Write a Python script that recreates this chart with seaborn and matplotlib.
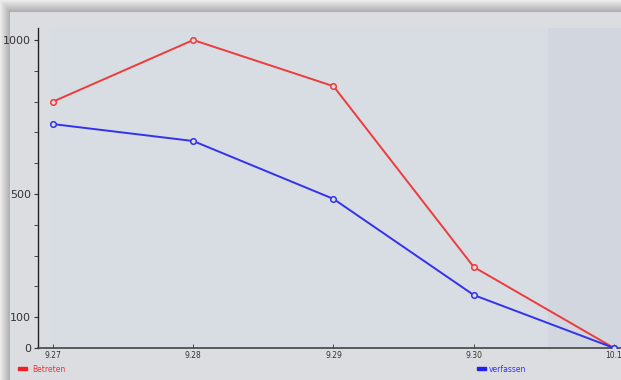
import numpy as np
import pandas as pd
import matplotlib
matplotlib.use("Agg")
import matplotlib.pyplot as plt
from matplotlib.patches import Rectangle
import seaborn as sns

dates = ["9.27", "9.28", "9.29", "9.30", "10.1"]
betreten = [800, 1000, 850, 263, 0]
verfassen = [727, 672, 484, 172, 0]
ytick_labels = [0, 100, 500, 1000]

df = pd.DataFrame({"pos": range(len(dates)), "Betreten": betreten, "verfassen": verfassen})

sns.set_style("white")
fig = plt.figure(figsize=(6.21, 3.80), dpi=100)

# background with shadow at top / left
bg = fig.add_axes([0, 0, 1, 1])
h, w = 380, 621
img = np.ones((h, w, 3)) * np.array([220, 221, 224]) / 255
yy, xx = np.mgrid[0:h, 0:w]
top = np.clip((12 - yy) / 12, 0, 1)
left = np.clip((10 - xx) / 10, 0, 1)
shade = np.maximum(top, left)
edge = np.array([170, 170, 170]) / 255
far = np.array([235, 235, 235]) / 255
mix = np.where(shade[..., None] > 0, edge + (far - edge) * shade[..., None], img)
bg.imshow(mix, aspect="auto", extent=[0, w, h, 0])
bg.axis("off")

ax = fig.add_axes([38 / 621, 32 / 380, 583 / 621, 320 / 380])
ax.set_facecolor("none")
ax.set_xlim(-0.107, 4.05)
ax.set_ylim(0, 1039)
ax.axvspan(-0.02, 3.53, color="#d8dce3", zorder=0, lw=0)
ax.axvspan(3.53, 4.1, color="#d2d6df", zorder=0, lw=0)

sns.lineplot(data=df, x="pos", y="Betreten", ax=ax, color="#ee3b3b", lw=1.4,
             marker="o", markersize=4, markerfacecolor="#d8dce3",
             markeredgecolor="#ee3b3b", markeredgewidth=1.1, zorder=3)
sns.lineplot(data=df, x="pos", y="verfassen", ax=ax, color="#3232ee", lw=1.4,
             marker="o", markersize=4, markerfacecolor="#d8dce3",
             markeredgecolor="#3232ee", markeredgewidth=1.1, zorder=3)

ax.set_xlabel("")
ax.set_ylabel("")
ax.set_xticks(range(len(dates)))
ax.set_xticklabels(dates, fontsize=5.5, color="#333333")
ax.set_yticks(ytick_labels)
ax.set_yticklabels([str(v) for v in ytick_labels], fontsize=8, color="#333333")
ax.set_yticks(range(0, 1001, 100), minor=True)
ax.tick_params(axis="y", which="major", length=3, width=0.8, color="#333333", pad=2, left=True)
ax.tick_params(axis="y", which="minor", length=3, width=0.7, color="#444444", left=True)
ax.tick_params(axis="x", which="major", length=3, width=0.6, color="#333333", pad=2, bottom=True, direction="in")
for s in ["top", "right"]:
    ax.spines[s].set_visible(False)
ax.spines["left"].set_color("#222222")
ax.spines["bottom"].set_color("#444444")
ax.spines["left"].set_linewidth(1.0)
ax.spines["bottom"].set_linewidth(1.2)

# legend swatches
fig.patches.append(Rectangle((18 / 621, 1 - 370 / 380), 9 / 621, 3 / 380,
                             transform=fig.transFigure, color="#ee2222", figure=fig))
fig.text(32 / 621, 1 - 369 / 380, "Betreten", fontsize=5.5, color="#ee3333", va="center")
fig.patches.append(Rectangle((477 / 621, 1 - 370 / 380), 9 / 621, 3 / 380,
                             transform=fig.transFigure, color="#2222ee", figure=fig))
fig.text(489 / 621, 1 - 369 / 380, "verfassen", fontsize=5.5, color="#3333ee", va="center")

fig.savefig("out.png", dpi=100)
